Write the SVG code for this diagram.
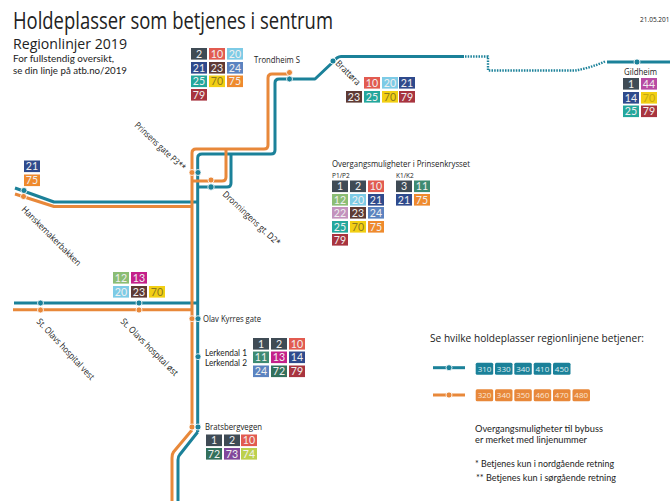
<svg xmlns="http://www.w3.org/2000/svg" width="670" height="501" viewBox="0 0 670 501">
<style>
text{font-family:"Open Sans","Noto Sans","Liberation Sans",sans-serif;fill:#222}
.b text{font-family:Lato,"Liberation Sans",sans-serif;font-size:10.6px;text-anchor:middle;fill:#f0f0f0}
.l{fill:none;stroke-width:3;stroke-linejoin:round}
.t{stroke:#1b8199}.o{stroke:#e8883a}
.dt{fill:#1b8199;stroke:#fff;stroke-width:.8}.do{fill:#e8883a;stroke:#fff;stroke-width:.8}
.lab{font-size:9px}
.lat{font-family:Lato,"Liberation Sans",sans-serif}
.n{font-family:Lato,"Liberation Sans",sans-serif;font-size:9.3px}
.c1{fill:#3f4b55}.c2{fill:#e25b50}.c3{fill:#7dcbe6}.c4{fill:#2f4a8c}.c5{fill:#5e3a34}.c6{fill:#5b83c0}.c7{fill:#24a79c}.c8{fill:#f2cf14}.c9{fill:#ef8a2e}.c10{fill:#a8343f}.c11{fill:#8bbd74}.c12{fill:#c4208a}.c13{fill:#c392bd}.c14{fill:#3d8a72}.c15{fill:#33705c}.c16{fill:#81479b}.c17{fill:#bdd04d}.c18{fill:#b84ba3}
</style>
<defs>
<rect id="r" width="16" height="11.6"/>
</defs>
<g id="heading">
<text x="13" y="29" font-size="23" textLength="320" lengthAdjust="spacingAndGlyphs">Holdeplasser som betjenes i sentrum</text>
<text x="13" y="49" font-size="14.5" textLength="114" lengthAdjust="spacingAndGlyphs">Regionlinjer 2019</text>
<text class="lat" x="13" y="62" font-size="9.6" textLength="101" lengthAdjust="spacingAndGlyphs">For fullstendig oversikt,</text>
<text class="lat" x="13" y="74" font-size="9.6" textLength="114" lengthAdjust="spacingAndGlyphs">se din linje på atb.no/2019</text>
<text x="640" y="22" font-size="6.5" textLength="29.5" lengthAdjust="spacingAndGlyphs">21.05.201</text>
</g>
<g id="connectors">
<path class="l t" d="M197.7 432V158Q197.7 154 202 154H271Q275 154 275 150V83Q275 79 279 79H315L333 62Q337 56.5 341 56.5H464"/>
<path class="l t" stroke-dasharray="1.5 1.2" style="stroke-width:2.4" d="M465 56.5H488V70.5H575Q590 68 605 61.5"/>
<path class="l t" d="M607 62H670"/>
<path class="l t" d="M197.7 432L179.5 455Q178 456.5 178 460V501"/>
<path class="l o" d="M192 430L173.5 452Q172 454 172 458V501"/>
<path class="l t" d="M197.7 187H227Q231 187 231 183V154"/>
<path class="l t" d="M15 188L54 202H197.7"/>
<path class="l t" d="M14 303H197.7"/>
<path class="l o" d="M192 430V153Q192 149 196 149H264Q268 149 268 145V78Q268 74 272 74H289"/>
<path class="l o" d="M192 181H222Q226 181 226 177V149"/>
<path class="l o" d="M15 194L54 206.5H192"/>
<path class="l o" d="M13 309.7H192"/>
<path class="l t" d="M433 367.7H465"/>
<path class="l o" d="M433 395H465"/>
</g>
<g id="stop-dots">
<circle class="dt" cx="289.5" cy="79" r="3"/><circle class="do" cx="289.5" cy="72.5" r="3"/>
<circle class="dt" cx="333" cy="61" r="3"/>
<circle class="dt" cx="637" cy="62" r="3"/>
<circle class="do" cx="192" cy="172.5" r="3"/><circle class="dt" cx="198" cy="172.5" r="3"/>
<circle class="do" cx="211" cy="180" r="3"/><circle class="dt" cx="211" cy="187" r="3.2"/>
<circle class="dt" cx="24" cy="190.5" r="3"/><circle class="do" cx="23.5" cy="196.5" r="3"/>
<circle class="dt" cx="40.5" cy="303" r="3"/><circle class="do" cx="40.5" cy="310" r="3"/>
<circle class="dt" cx="139" cy="303" r="3"/><circle class="do" cx="139" cy="310" r="3"/>
<circle class="do" cx="192" cy="318.7" r="3"/><circle class="dt" cx="198" cy="318.7" r="3"/>
<circle class="dt" cx="198" cy="356.7" r="3"/>
<circle class="do" cx="192" cy="427" r="3"/><circle class="dt" cx="198" cy="427" r="3"/>
<circle class="dt" cx="449" cy="367.7" r="3"/><circle class="do" cx="449" cy="395" r="3"/>
</g>
<g id="stop-labels">
<text class="lab" x="254" y="63" textLength="46" lengthAdjust="spacingAndGlyphs">Trondheim S</text>
<text class="lab" transform="translate(335 64) rotate(45)" textLength="31" lengthAdjust="spacingAndGlyphs">Brattøra</text>
<text class="lab" transform="translate(134 126) rotate(43)" textLength="66" lengthAdjust="spacingAndGlyphs">Prinsens gate P3**</text>
<text class="lab" transform="translate(222 195) rotate(43)" textLength="75" lengthAdjust="spacingAndGlyphs">Dronningens gt. D2*</text>
<text class="lab" transform="translate(21 210) rotate(45)" textLength="80" lengthAdjust="spacingAndGlyphs">Hanskemakerbakken</text>
<text class="lab" transform="translate(36 322) rotate(47)" textLength="80" lengthAdjust="spacingAndGlyphs">St. Olavs hospital vest</text>
<text class="lab" transform="translate(120 322) rotate(45)" textLength="77" lengthAdjust="spacingAndGlyphs">St. Olavs hospital øst</text>
<text class="lab" x="203" y="321.5" textLength="58" lengthAdjust="spacingAndGlyphs">Olav Kyrres gate</text>
<text class="lat" font-size="8.7" x="205" y="355.5" textLength="42" lengthAdjust="spacingAndGlyphs">Lerkendal 1</text>
<text class="lat" font-size="8.7" x="205" y="366" textLength="42" lengthAdjust="spacingAndGlyphs">Lerkendal 2</text>
<text class="lab" x="205" y="430" textLength="57" lengthAdjust="spacingAndGlyphs">Bratsbergvegen</text>
<text class="lab" x="624" y="74.5" textLength="33" lengthAdjust="spacingAndGlyphs">Gildheim</text>
</g>
<g id="boxes-trondheim" class="b">
<use href="#r" x="191" y="48" class="c1"/><text x="199" y="57.7">2</text>
<use href="#r" x="209" y="48" class="c2"/><text x="217" y="57.7">10</text>
<use href="#r" x="227" y="48" class="c3"/><text x="235" y="57.7">20</text>
<use href="#r" x="191" y="62" class="c4"/><text x="199" y="71.7">21</text>
<use href="#r" x="209" y="62" class="c5"/><text x="217" y="71.7">23</text>
<use href="#r" x="227" y="62" class="c6"/><text x="235" y="71.7">24</text>
<use href="#r" x="191" y="75.5" class="c7"/><text x="199" y="85.2">25</text>
<use href="#r" x="209" y="75.5" class="c8"/><text x="217" y="85.2" style="fill:#8a7a20">70</text>
<use href="#r" x="227" y="75.5" class="c9"/><text x="235" y="85.2">75</text>
<use href="#r" x="191" y="89" class="c10"/><text x="199" y="98.7">79</text>
</g>
<g id="boxes-brattora" class="b">
<use href="#r" x="364" y="77" class="c2"/><text x="372" y="86.7">10</text>
<use href="#r" x="382" y="77" class="c3"/><text x="390" y="86.7">20</text>
<use href="#r" x="399" y="77" class="c4"/><text x="407" y="86.7">21</text>
<use href="#r" x="346" y="91" class="c5"/><text x="354" y="100.7">23</text>
<use href="#r" x="364" y="91" class="c7"/><text x="372" y="100.7">25</text>
<use href="#r" x="382" y="91" class="c8"/><text x="390" y="100.7" style="fill:#8a7a20">70</text>
<use href="#r" x="399" y="91" class="c10"/><text x="407" y="100.7">79</text>
</g>
<g id="boxes-gildheim" class="b">
<use href="#r" x="623" y="78" class="c1"/><text x="631" y="87.7">1</text>
<use href="#r" x="641" y="78" class="c18"/><text x="649" y="87.7">44</text>
<use href="#r" x="623" y="92" class="c4"/><text x="631" y="101.7">14</text>
<use href="#r" x="641" y="92" class="c8"/><text x="649" y="101.7" style="fill:#c4a810">70</text>
<use href="#r" x="623" y="105.5" class="c7"/><text x="631" y="115.2">25</text>
<use href="#r" x="641" y="105.5" class="c10"/><text x="649" y="115.2">79</text>
</g>
<g id="boxes-hansk" class="b">
<use href="#r" x="24" y="160.5" class="c4"/><text x="32" y="170.2">21</text>
<use href="#r" x="24" y="174.5" class="c9"/><text x="32" y="184.2">75</text>
</g>
<g id="boxes-prinsen">
<text x="332" y="166.5" font-size="9.4" textLength="138" lengthAdjust="spacingAndGlyphs">Overgangsmuligheter i Prinsenkrysset</text>
<text x="332" y="178" font-size="6.5">P1/P2</text>
<text x="396" y="178" font-size="6.5">K1/K2</text>
<g class="b">
<use href="#r" x="332" y="180.5" class="c1"/><text x="340" y="190.2">1</text>
<use href="#r" x="350" y="180.5" class="c1"/><text x="358" y="190.2">2</text>
<use href="#r" x="368" y="180.5" class="c2"/><text x="376" y="190.2">10</text>
<use href="#r" x="332" y="194" class="c11"/><text x="340" y="203.7">12</text>
<use href="#r" x="350" y="194" class="c3"/><text x="358" y="203.7">20</text>
<use href="#r" x="368" y="194" class="c4"/><text x="376" y="203.7">21</text>
<use href="#r" x="332" y="207" class="c13"/><text x="340" y="216.7">22</text>
<use href="#r" x="350" y="207" class="c5"/><text x="358" y="216.7">23</text>
<use href="#r" x="368" y="207" class="c6"/><text x="376" y="216.7">24</text>
<use href="#r" x="332" y="221" class="c7"/><text x="340" y="230.7">25</text>
<use href="#r" x="350" y="221" class="c8"/><text x="358" y="230.7" style="fill:#8a7a20">70</text>
<use href="#r" x="368" y="221" class="c9"/><text x="376" y="230.7">75</text>
<use href="#r" x="332" y="234" class="c10"/><text x="340" y="243.7">79</text>
<use href="#r" x="396" y="180.5" class="c1"/><text x="404" y="190.2">3</text>
<use href="#r" x="414" y="180.5" class="c14"/><text x="422" y="190.2">11</text>
<use href="#r" x="396" y="194" class="c4"/><text x="404" y="203.7">21</text>
<use href="#r" x="414" y="194" class="c9"/><text x="422" y="203.7">75</text>
</g>
</g>
<g id="boxes-hospital" class="b">
<use href="#r" x="113" y="272" class="c11"/><text x="121" y="281.7">12</text>
<use href="#r" x="131" y="272" class="c12"/><text x="139" y="281.7">13</text>
<use href="#r" x="113" y="286" class="c3"/><text x="121" y="295.7">20</text>
<use href="#r" x="131" y="286" class="c5"/><text x="139" y="295.7">23</text>
<use href="#r" x="149" y="286" class="c8"/><text x="157" y="295.7" style="fill:#8a7a20">70</text>
</g>
<g id="boxes-lerkendal" class="b">
<use href="#r" x="253" y="338" class="c1"/><text x="261" y="347.7">1</text>
<use href="#r" x="271" y="338" class="c1"/><text x="279" y="347.7">2</text>
<use href="#r" x="289" y="338" class="c2"/><text x="297" y="347.7">10</text>
<use href="#r" x="253" y="351.5" class="c14"/><text x="261" y="361.2">11</text>
<use href="#r" x="271" y="351.5" class="c12"/><text x="279" y="361.2">13</text>
<use href="#r" x="289" y="351.5" class="c4"/><text x="297" y="361.2">14</text>
<use href="#r" x="253" y="365.5" class="c6"/><text x="261" y="375.2">24</text>
<use href="#r" x="271" y="365.5" class="c15"/><text x="279" y="375.2">72</text>
<use href="#r" x="289" y="365.5" class="c10"/><text x="297" y="375.2">79</text>
</g>
<g id="boxes-bratsberg" class="b">
<use href="#r" x="206" y="434.5" class="c1"/><text x="214" y="444.2">1</text>
<use href="#r" x="224" y="434.5" class="c1"/><text x="232" y="444.2">2</text>
<use href="#r" x="241" y="434.5" class="c2"/><text x="249" y="444.2">10</text>
<use href="#r" x="206" y="448" class="c15"/><text x="214" y="457.7">72</text>
<use href="#r" x="224" y="448" class="c16"/><text x="232" y="457.7">73</text>
<use href="#r" x="241" y="448" class="c17"/><text x="249" y="457.7">74</text>
</g>
<g id="legend">
<text x="430" y="342" font-size="10.4" textLength="214" lengthAdjust="spacingAndGlyphs">Se hvilke holdeplasser regionlinjene betjener:</text>
<g font-size="8" text-anchor="middle">
<rect x="475.7" y="362.7" width="17.5" height="12" rx="1.5" fill="#1b8199"/><text x="484.5" y="371.5" style="fill:#dfeef2">310</text>
<rect x="495" y="362.7" width="17.5" height="12" rx="1.5" fill="#1b8199"/><text x="503.7" y="371.5" style="fill:#dfeef2">330</text>
<rect x="514.3" y="362.7" width="17.5" height="12" rx="1.5" fill="#1b8199"/><text x="523" y="371.5" style="fill:#dfeef2">340</text>
<rect x="533.7" y="362.7" width="17.5" height="12" rx="1.5" fill="#1b8199"/><text x="542.4" y="371.5" style="fill:#dfeef2">410</text>
<rect x="553" y="362.7" width="17.5" height="12" rx="1.5" fill="#1b8199"/><text x="561.7" y="371.5" style="fill:#dfeef2">450</text>
<rect x="475.7" y="389.3" width="17.5" height="12" rx="1.5" fill="#e8883a"/><text x="484.5" y="398.1" style="fill:#fbe6d4">320</text>
<rect x="495" y="389.3" width="17.5" height="12" rx="1.5" fill="#e8883a"/><text x="503.7" y="398.1" style="fill:#fbe6d4">340</text>
<rect x="514.3" y="389.3" width="17.5" height="12" rx="1.5" fill="#e8883a"/><text x="523" y="398.1" style="fill:#fbe6d4">350</text>
<rect x="533.7" y="389.3" width="17.5" height="12" rx="1.5" fill="#e8883a"/><text x="542.4" y="398.1" style="fill:#fbe6d4">460</text>
<rect x="553" y="389.3" width="17.5" height="12" rx="1.5" fill="#e8883a"/><text x="561.7" y="398.1" style="fill:#fbe6d4">470</text>
<rect x="572.5" y="389.3" width="17.5" height="12" rx="1.5" fill="#e8883a"/><text x="581.2" y="398.1" style="fill:#fbe6d4">480</text>
</g>
<text class="n" x="475" y="431.7" textLength="128" lengthAdjust="spacingAndGlyphs">Overgangsmuligheter til bybuss</text>
<text class="n" x="475" y="443" textLength="112" lengthAdjust="spacingAndGlyphs">er merket med linjenummer</text>
<text class="n" x="475" y="467" textLength="139" lengthAdjust="spacingAndGlyphs">* Betjenes kun i nordgående retning</text>
<text class="n" x="476" y="481" textLength="140" lengthAdjust="spacingAndGlyphs">** Betjenes kun i sørgående retning</text>
</g>
</svg>
